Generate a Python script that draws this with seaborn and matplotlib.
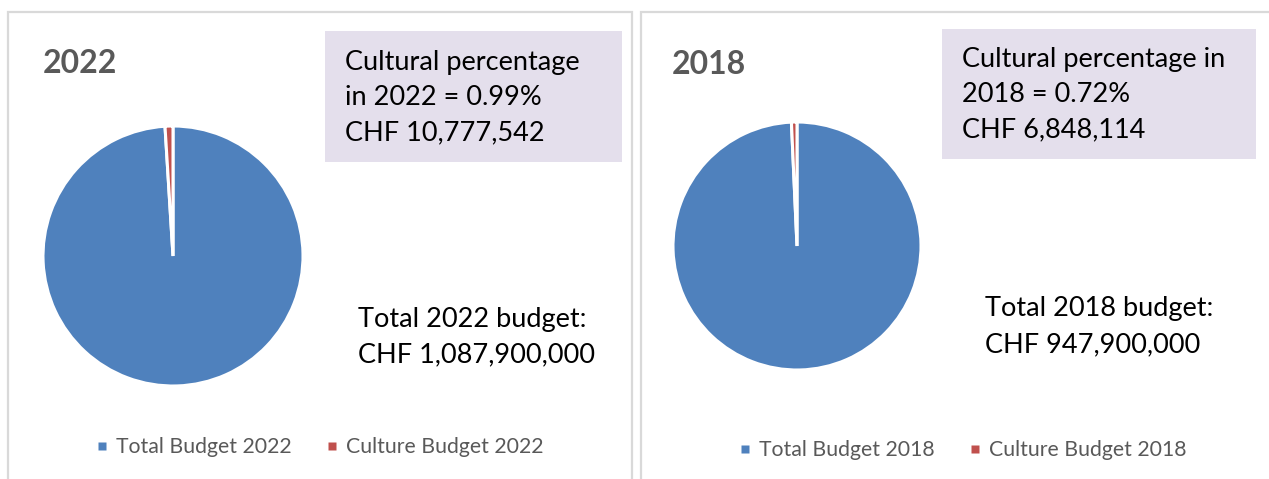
import matplotlib
matplotlib.use("Agg")
import matplotlib.pyplot as plt
from matplotlib.patches import Rectangle
from matplotlib.lines import Line2D
import seaborn as sns

# Budget figures (CHF)
years = ["2022", "2018"]
total_budget = [1087900000, 947900000]
culture_budget = [10777542, 6848114]
culture_pct = ["0.99%", "0.72%"]
series_names = ["Total Budget", "Culture Budget"]

# Text lines of the lavender info boxes
info_lines = [
    ["Cultural percentage", f"in 2022 = {culture_pct[0]}", f"CHF {culture_budget[0]:,}"],
    ["Cultural percentage in", f"2018 = {culture_pct[1]}", f"CHF {culture_budget[1]:,}"],
]

sns.set_theme(style="white")
plt.rcParams["font.family"] = ["Lato", "DejaVu Sans"]
palette = sns.color_palette(["#4f81bd", "#c0504d"])

W, H = 1269, 479
fig = plt.figure(figsize=(W / 100, H / 100), dpi=100)
fig.patch.set_facecolor("white")


def fx(x):
    return x / W


def fy(y):
    return 1 - y / H


# layout of each panel, in pixels
panels = [
    dict(frame=(8, 632), cx=173, cy=256, r=130, title=(43, 73),
         box=(325, 31, 622, 162), box_text_x=345, box_base=[70, 105, 140],
         tot_x=358, tot_base=[327, 362], legend=(96, 447)),
    dict(frame=(641, 1300), cx=797, cy=246, r=124, title=(672, 74),
         box=(942, 29, 1256, 159), box_text_x=962, box_base=[67, 102, 137],
         tot_x=985, tot_base=[316, 352], legend=(739, 450)),
]

for i, p in enumerate(panels):
    # panel frame
    x0, x1 = p["frame"]
    fig.add_artist(Rectangle((fx(x0), -0.1), fx(x1) - fx(x0), fy(12) + 0.1,
                             transform=fig.transFigure, fill=False,
                             edgecolor="#d9d9d9", linewidth=1.6))

    # pie
    cx, cy, r = p["cx"], p["cy"], p["r"]
    ax = fig.add_axes([fx(cx - r), fy(cy + r), 2 * r / W, 2 * r / H])
    wedges, _ = ax.pie([total_budget[i], culture_budget[i]], colors=palette,
                       startangle=90, counterclock=False,
                       wedgeprops=dict(edgecolor="white", linewidth=2.2))
    ax.set_xlim(-1.0, 1.0)
    ax.set_ylim(-1.0, 1.0)
    ax.set_aspect("equal")
    ax.axis("off")

    # year title
    tx, tb = p["title"]
    fig.text(fx(tx), fy(tb), years[i], fontsize=23, fontweight="bold",
             color="#595959", va="baseline", ha="left")

    # info box
    bx0, by0, bx1, by1 = p["box"]
    fig.add_artist(Rectangle((fx(bx0), fy(by1)), fx(bx1) - fx(bx0), fy(by0) - fy(by1),
                             transform=fig.transFigure, facecolor="#e4dfec",
                             edgecolor="none"))
    for line, base in zip(info_lines[i], p["box_base"]):
        fig.text(fx(p["box_text_x"]), fy(base), line, fontsize=19.5,
                 color="black", va="baseline", ha="left")

    # total budget note
    tot_lines = [f"Total {years[i]} budget:", f"CHF {total_budget[i]:,}"]
    for line, base in zip(tot_lines, p["tot_base"]):
        fig.text(fx(p["tot_x"]), fy(base), line, fontsize=19.5,
                 color="black", va="baseline", ha="left")

    # legend with small square keys
    handles = [Line2D([], [], linestyle="none", marker="s", markersize=5.8,
                      markerfacecolor=c, markeredgecolor="none") for c in palette]
    lx, ly = p["legend"]
    fig.legend(handles, [f"{n} {years[i]}" for n in series_names],
               loc="center left", bbox_to_anchor=(fx(lx), fy(ly)),
               bbox_transform=fig.transFigure, ncol=2, frameon=False,
               fontsize=15.3, labelcolor="#595959", borderpad=0,
               handlelength=0.6, handletextpad=0.35,
               columnspacing=1.6, borderaxespad=0)

fig.savefig("out.png", dpi=100, facecolor="white")
